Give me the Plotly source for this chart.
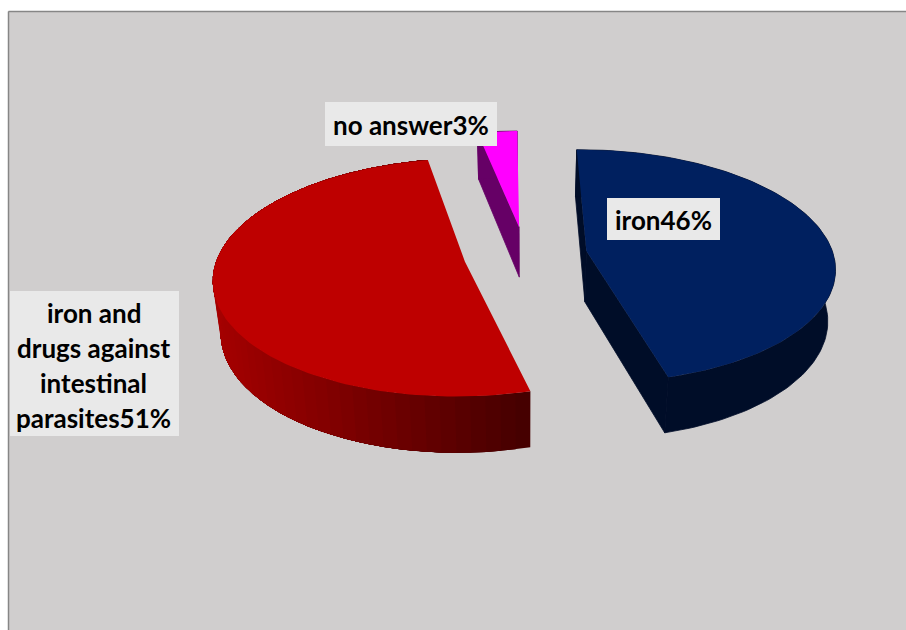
import math
import plotly.graph_objects as go

# ---- data ----
labels = ["iron", "iron and drugs against intestinal parasites", "no answer"]
values = [46, 51, 3]
top_colors = ["#00205F", "#BE0000", "#FF00FF"]
wall_colors = ["#000D28", None, "#660066"]
rim_left = (165, 0, 0)
rim_right = (70, 0, 0)

# ---- view settings for the tilted pie ----
XC, YV, EYE, K, SX = 525.5, -633.0, 888.0, 0.13, 247.0
DEPTH, DEPTH_GROW, BOTTOM_SCALE, PULL, FIRST_ANGLE = 51.0, 33.0, 0.975, 0.25, -0.7


def project(x, z, bottom=False):
    w = 1.0 / (1.0 - K * z)
    sx = SX * x * w
    sy = YV + EYE * w
    if bottom:
        sx *= BOTTOM_SCALE
        sy += DEPTH + DEPTH_GROW * (w - 1.0)
    return XC + sx, sy


def poly(points, color, width=0.0):
    xs = [p[0] for p in points] + [points[0][0]]
    ys = [p[1] for p in points] + [points[0][1]]
    return go.Scatter(x=xs, y=ys, mode="lines", fill="toself", fillcolor=color,
                      line=dict(color=color, width=width), hoverinfo="skip", showlegend=False)


total = sum(values)
slices = {}
start = FIRST_ANGLE
for name, val in zip(labels, values):
    a0 = start
    a1 = start + 360.0 * val / total
    mid = math.radians((a0 + a1) / 2)
    slices[name] = (a0, a1, PULL * math.sin(mid), -PULL * math.cos(mid))
    start = a1


def rim_point(name, deg, bottom=False):
    a0, a1, ax, az = slices[name]
    t = math.radians(deg)
    return project(ax + math.sin(t), az - math.cos(t), bottom)


def apex(name, bottom=False):
    _, _, ax, az = slices[name]
    return project(ax, az, bottom)


def mix(c0, c1, t):
    return "rgb(%d,%d,%d)" % tuple(round(a + (b - a) * t) for a, b in zip(c0, c1))


fig = go.Figure()

for name, top, wall in zip(labels, top_colors, wall_colors):
    a0, a1, _, _ = slices[name]
    n = 120
    degs = [a0 + (a1 - a0) * i / n for i in range(n + 1)]
    # cut walls
    if wall:
        fig.add_trace(poly([rim_point(name, a0), rim_point(name, a0, True), apex(name, True), apex(name)], wall, 0.8))
    if name == "iron":
        fig.add_trace(poly([apex(name), apex(name, True), rim_point(name, a1, True), rim_point(name, a1)], wall, 0.8))
    # outer rim
    if wall:
        fig.add_trace(poly([rim_point(name, d) for d in degs] +
                           [rim_point(name, d, True) for d in reversed(degs)], wall, 0.8))
    else:
        m = 60
        dd = [a0 + (a1 - a0) * i / m for i in range(m + 1)]
        for i in range(m):
            seg = dd[i:]  # each strip runs to the end, the next one paints over it
            q = [rim_point(name, d) for d in seg] + [rim_point(name, d, True) for d in reversed(seg)]
            xm = rim_point(name, dd[i])[0]
            col = mix(rim_left, rim_right, min(1, max(0, (xm - 215) / 315)))
            fig.add_trace(poly(q, col))
    # top face
    pts = [apex(name)] + [rim_point(name, d) for d in degs]
    fig.add_trace(poly(pts, top))

LABEL_FONT = dict(family="Lato", size=26, color="#000000")
BOX = "#E9E9E9"
boxes = []


def note(lines, x0, y0, x1, y1, spacing=35, dx=0.0, dy=1.0):
    boxes.append(dict(type="rect", xref="x", yref="y", x0=x0, y0=y0, x1=x1, y1=y1, layer="above",
                      fillcolor=BOX, line=dict(width=0)))
    yc = (y0 + y1) / 2 - spacing * (len(lines) - 1) / 2 + dy
    for i, t in enumerate(lines):
        fig.add_annotation(x=(x0 + x1) / 2 + dx, y=yc + i * spacing, xref="x", yref="y", text="<b>%s</b>" % t,
                           showarrow=False, font=LABEL_FONT, xanchor="center", yanchor="middle")


note(["no answer3%"], 325, 102, 497, 146)
note(["iron46%"], 607, 198, 720, 240, dx=-0.5)
note(["iron and", "drugs against", "intestinal", "parasites51%"], 10, 291, 179, 436, dx=-1.0, dy=1.5)

fig.update_layout(
    width=906, height=630, margin=dict(l=0, r=0, t=0, b=0),
    paper_bgcolor="#FFFFFF", plot_bgcolor="#FFFFFF", showlegend=False,
    xaxis=dict(range=[0, 906], visible=False, fixedrange=True),
    yaxis=dict(range=[630, 0], visible=False, fixedrange=True),
    shapes=[
        dict(type="rect", xref="x", yref="y", x0=8, y0=11, x1=906, y1=630, layer="below",
             fillcolor="#D0CECE", line=dict(width=0)),
        dict(type="line", xref="x", yref="y", x0=8.5, y0=11.5, x1=906, y1=11.5, layer="below",
             line=dict(color="#868686", width=1.5)),
        dict(type="line", xref="x", yref="y", x0=8.5, y0=11.5, x1=8.5, y1=630, layer="below",
             line=dict(color="#868686", width=1.5)),
    ] + boxes,
)
fig.write_html("out.html", config=dict(displayModeBar=False),
               post_script="document.body.style.margin='0';document.documentElement.style.overflow='hidden';")
